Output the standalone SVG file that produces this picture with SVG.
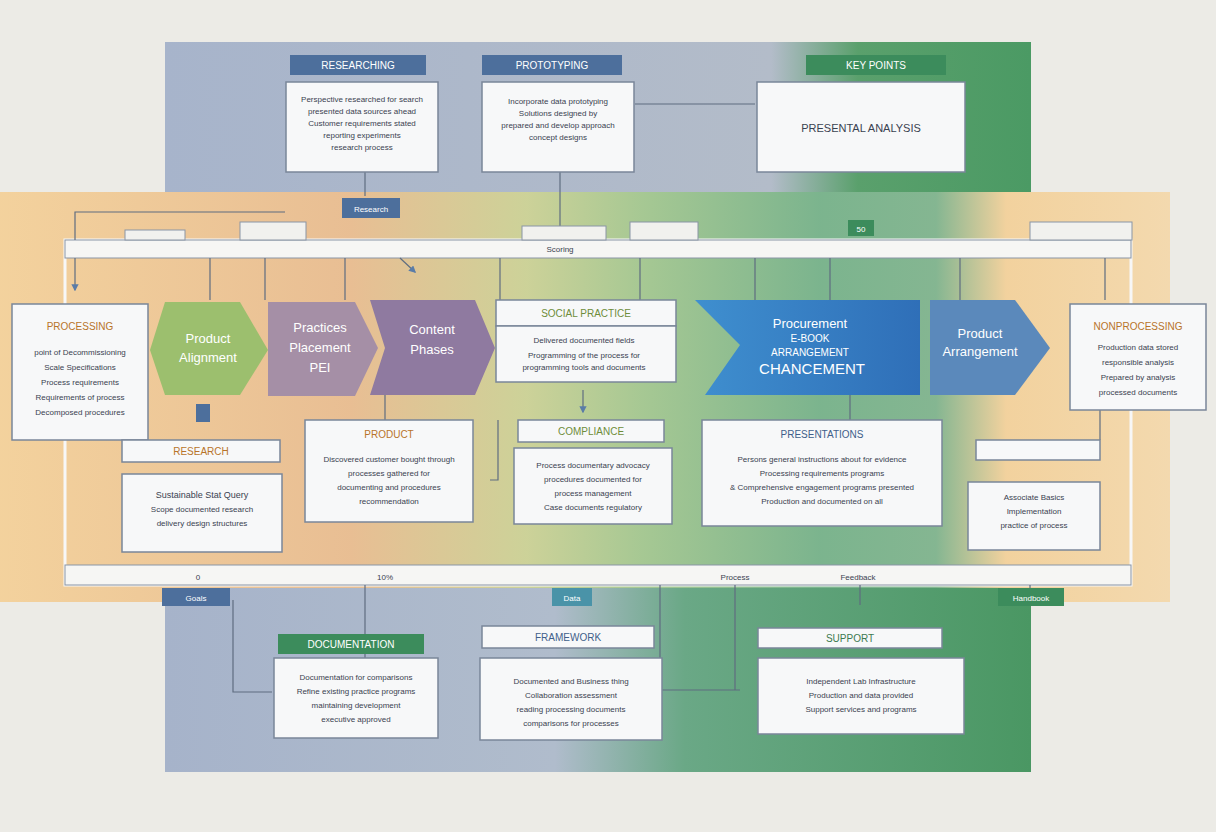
<svg xmlns="http://www.w3.org/2000/svg" width="1216" height="832" viewBox="0 0 1216 832">
<defs>
<linearGradient id="top" x1="0" x2="1"><stop offset="0" stop-color="#a7b4cb"/><stop offset="0.7" stop-color="#b3bcc9"/><stop offset="0.8" stop-color="#5aa06c"/><stop offset="1" stop-color="#4b9a64"/></linearGradient>
<linearGradient id="mid" x1="0" x2="1"><stop offset="0" stop-color="#f4cf95"/><stop offset="0.3" stop-color="#e8b98a"/><stop offset="0.45" stop-color="#c9cf90"/><stop offset="0.55" stop-color="#9ec48a"/><stop offset="0.7" stop-color="#6fae84"/><stop offset="0.8" stop-color="#79b088"/><stop offset="0.86" stop-color="#f3cf96"/><stop offset="1" stop-color="#f4d7a8"/></linearGradient>
<linearGradient id="bot" x1="0" x2="1"><stop offset="0" stop-color="#a6b3ca"/><stop offset="0.45" stop-color="#b0bccc"/><stop offset="0.6" stop-color="#6aa886"/><stop offset="1" stop-color="#4a9763"/></linearGradient>
<linearGradient id="blue" x1="0" x2="1"><stop offset="0" stop-color="#3f8fcf"/><stop offset="1" stop-color="#2f6fb8"/></linearGradient>
<marker id="ar" viewBox="0 0 10 10" refX="8" refY="5" markerWidth="6" markerHeight="6" orient="auto"><path d="M0,0L10,5L0,10z" fill="#5a7ca8"/></marker>
</defs>
<style>
.box{fill:#f7f8f9;stroke:#7a8699;stroke-width:1.5}
.hdr{fill:#f1f1ee;stroke:#8a95a5;stroke-width:1}
.hd{fill:#4d6f9c}
.ht{font-family:"Liberation Sans",sans-serif;font-size:10px;fill:#ffffff;text-anchor:middle}
.t{font-family:"Liberation Sans",sans-serif;font-size:8px;fill:#3a4250;text-anchor:middle}
.tt{font-family:"Liberation Sans",sans-serif;font-size:10px;fill:#b8742a;text-anchor:middle}
.w{font-family:"Liberation Sans",sans-serif;font-size:13px;fill:#ffffff;text-anchor:middle}
.ln{stroke:#5f6d80;stroke-width:1.2;fill:none}
</style>
<rect width="1216" height="832" fill="#ecebe6"/>
<rect x="165" y="42" width="866" height="150" fill="url(#top)"/>
<rect x="0" y="192" width="1170" height="410" fill="url(#mid)" opacity="0.9"/>
<rect x="165" y="588" width="866" height="184" fill="url(#bot)"/>
<g id="connectors">
<rect x="65" y="240" width="1066" height="345" fill="none" stroke="#f7f7f7" stroke-width="3"/>
<rect x="65" y="240" width="1066" height="18" fill="#f6f6f4" stroke="#8a95a5"/>
<rect x="65" y="565" width="1066" height="20" fill="#f6f6f4" stroke="#8a95a5"/>
<path class="ln" d="M75,240V212H285"/><path class="ln" d="M75,258V290" marker-end="url(#ar)"/>
<path class="ln" d="M365,172V196"/><path class="ln" d="M560,172V240"/><path class="ln" d="M635,104H755"/>
<path class="ln" d="M400,258L415,272" marker-end="url(#ar)"/>
<path class="ln" d="M210,258V300M265,258V300M345,258V300M500,258V300M640,258V300M755,258V300M830,258V300M960,258V300M1105,258V300"/>
<path class="ln" d="M583,390V412" marker-end="url(#ar)"/><path class="ln" d="M498,420V480H490"/>
<path class="ln" d="M385,390V420M850,395V420M1100,410V440"/>
<path class="ln" d="M365,585V660M233,600V692H272M735,585V690M860,585V605" />
<path class="ln" d="M660,585V690H740"/><path class="ln" d="M1030,585V600"/>
</g>
<g id="top-boxes">
<rect x="290" y="55" width="136" height="20" class="hd"/><text x="358" y="69" class="ht">RESEARCHING</text>
<rect x="286" y="82" width="152" height="90" class="box"/>
<text x="362" y="102" class="t">Perspective researched for search</text><text x="362" y="114" class="t">presented data sources ahead</text><text x="362" y="126" class="t">Customer requirements stated</text><text x="362" y="138" class="t">reporting experiments</text><text x="362" y="150" class="t">research process</text>
<rect x="482" y="55" width="140" height="20" class="hd"/><text x="552" y="69" class="ht">PROTOTYPING</text>
<rect x="482" y="82" width="152" height="90" class="box"/>
<text x="558" y="104" class="t">Incorporate data prototyping</text><text x="558" y="116" class="t">Solutions designed by</text><text x="558" y="128" class="t">prepared and develop approach</text><text x="558" y="140" class="t">concept designs</text>
<rect x="806" y="55" width="140" height="20" fill="#3c8c5c"/><text x="876" y="69" class="ht">KEY POINTS</text>
<rect x="757" y="82" width="208" height="90" class="box"/>
<text x="861" y="132" class="t" style="font-size:11px">PRESENTAL ANALYSIS</text>
<rect x="342" y="198" width="58" height="20" class="hd"/><text x="371" y="212" class="ht" style="font-size:8px">Research</text>
<rect x="848" y="220" width="26" height="16" fill="#3c8c5c"/><text x="861" y="232" class="ht" style="font-size:8px">50</text>
<rect x="125" y="230" width="60" height="10" class="hdr"/><rect x="240" y="222" width="66" height="18" class="hdr"/>
<rect x="522" y="226" width="84" height="14" class="hdr"/><rect x="630" y="222" width="68" height="18" class="hdr"/>
<rect x="1030" y="222" width="102" height="18" class="hdr"/>
<text x="560" y="252" class="t">Scoring</text>
</g>
<g id="middle-row">
<rect x="12" y="304" width="136" height="136" class="box"/>
<text x="80" y="330" class="tt">PROCESSING</text>
<text x="80" y="355" class="t">point of Decommissioning</text><text x="80" y="370" class="t">Scale Specifications</text><text x="80" y="385" class="t">Process requirements</text><text x="80" y="400" class="t">Requirements of process</text><text x="80" y="415" class="t">Decomposed procedures</text>
<path d="M165,302H240L268,350L240,395H165L150,350Z" fill="#9cbf6e"/>
<text x="208" y="343" class="w">Product</text><text x="208" y="362" class="w">Alignment</text>
<path d="M268,302H355L378,348L355,396H268Z" fill="#a58fa6"/>
<text x="320" y="332" class="w">Practices</text><text x="320" y="352" class="w">Placement</text><text x="320" y="372" class="w">PEI</text>
<path d="M370,300H475L495,348L475,395H370L385,348Z" fill="#8f7aa0"/>
<text x="432" y="334" class="w">Content</text><text x="432" y="354" class="w">Phases</text>
<rect x="496" y="300" width="180" height="26" class="box"/><text x="586" y="317" class="tt" style="fill:#6e8d3a">SOCIAL PRACTICE</text>
<rect x="496" y="326" width="180" height="56" class="box"/>
<text x="584" y="343" class="t">Delivered documented fields</text><text x="584" y="358" class="t">Programming of the process for</text><text x="584" y="370" class="t">programming tools and documents</text>
<path d="M695,300H920V395H705L740,345Z" fill="url(#blue)"/>
<text x="810" y="328" class="w">Procurement</text><text x="810" y="342" class="w" style="font-size:10px">E-BOOK</text><text x="810" y="356" class="w" style="font-size:10px">ARRANGEMENT</text><text x="812" y="374" class="w" style="font-size:15px">CHANCEMENT</text>
<path d="M930,300H1015L1050,348L1015,395H930Z" fill="#5b89bb"/>
<text x="980" y="338" class="w">Product</text><text x="980" y="356" class="w">Arrangement</text>
<rect x="1070" y="304" width="136" height="106" class="box"/>
<text x="1138" y="330" class="tt">NONPROCESSING</text>
<text x="1138" y="350" class="t">Production data stored</text><text x="1138" y="365" class="t">responsible analysis</text><text x="1138" y="380" class="t">Prepared by analysis</text><text x="1138" y="395" class="t">processed documents</text>
</g>
<g id="lower-row">
<rect x="122" y="440" width="158" height="22" class="box"/><text x="201" y="455" class="tt">RESEARCH</text>
<rect x="122" y="474" width="160" height="78" class="box"/>
<text x="202" y="498" class="t" style="font-size:9px">Sustainable Stat Query</text><text x="202" y="512" class="t">Scope documented research</text><text x="202" y="526" class="t">delivery design structures</text>
<rect x="196" y="404" width="14" height="18" fill="#4d6f9c"/>
<rect x="305" y="420" width="168" height="102" class="box"/><text x="389" y="438" class="tt">PRODUCT</text>
<text x="389" y="462" class="t">Discovered customer bought through</text><text x="389" y="476" class="t">processes gathered for</text><text x="389" y="490" class="t">documenting and procedures</text><text x="389" y="504" class="t">recommendation</text>
<rect x="518" y="420" width="146" height="22" class="box"/><text x="591" y="435" class="tt" style="fill:#6e8d3a">COMPLIANCE</text>
<rect x="514" y="448" width="158" height="76" class="box"/>
<text x="593" y="468" class="t">Process documentary advocacy</text><text x="593" y="482" class="t">procedures documented for</text><text x="593" y="496" class="t">process management</text><text x="593" y="510" class="t">Case documents regulatory</text>
<rect x="702" y="420" width="240" height="106" class="box"/><text x="822" y="438" class="tt" style="fill:#3f5f8a">PRESENTATIONS</text>
<text x="822" y="462" class="t">Persons general instructions about for evidence</text><text x="822" y="476" class="t">Processing requirements programs</text><text x="822" y="490" class="t">&amp; Comprehensive engagement programs presented</text><text x="822" y="504" class="t">Production and documented on all</text>
<rect x="976" y="440" width="124" height="20" class="box"/>
<rect x="968" y="482" width="132" height="68" class="box"/>
<text x="1034" y="500" class="t">Associate Basics</text><text x="1034" y="514" class="t">Implementation</text><text x="1034" y="528" class="t">practice of process</text>
<text x="198" y="580" class="t">0</text><text x="385" y="580" class="t">10%</text><text x="735" y="580" class="t">Process</text><text x="858" y="580" class="t">Feedback</text>
</g>
<g id="bottom-boxes">
<rect x="162" y="588" width="68" height="18" class="hd"/><text x="196" y="601" class="ht" style="font-size:8px">Goals</text>
<rect x="552" y="588" width="40" height="18" fill="#4a93a8"/><text x="572" y="601" class="ht" style="font-size:8px">Data</text>
<rect x="998" y="588" width="66" height="18" fill="#3c8c5c"/><text x="1031" y="601" class="ht" style="font-size:8px">Handbook</text>
<rect x="278" y="634" width="146" height="20" fill="#3c8c5c"/><text x="351" y="648" class="ht">DOCUMENTATION</text>
<rect x="274" y="658" width="164" height="80" class="box"/>
<text x="356" y="680" class="t">Documentation for comparisons</text><text x="356" y="694" class="t">Refine existing practice programs</text><text x="356" y="708" class="t">maintaining development</text><text x="356" y="722" class="t">executive approved</text>
<rect x="482" y="626" width="172" height="22" class="box"/><text x="568" y="641" class="tt" style="fill:#3f5f8a">FRAMEWORK</text>
<rect x="480" y="658" width="182" height="82" class="box"/>
<text x="571" y="684" class="t">Documented and Business thing</text><text x="571" y="698" class="t">Collaboration assessment</text><text x="571" y="712" class="t">reading processing documents</text><text x="571" y="726" class="t">comparisons for processes</text>
<rect x="758" y="628" width="184" height="20" class="box"/><text x="850" y="642" class="tt" style="fill:#3c7a50">SUPPORT</text>
<rect x="758" y="658" width="206" height="76" class="box"/>
<text x="861" y="684" class="t">Independent Lab Infrastructure</text><text x="861" y="698" class="t">Production and data provided</text><text x="861" y="712" class="t">Support services and programs</text>
</g>
</svg>
